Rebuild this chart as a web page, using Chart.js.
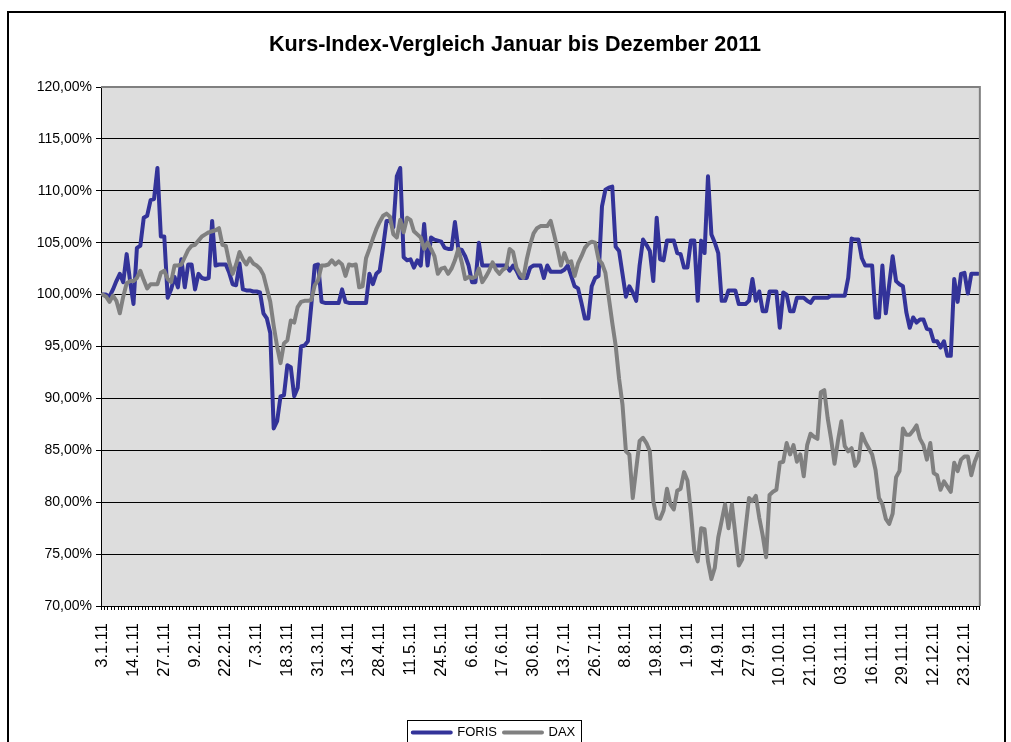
<!DOCTYPE html>
<html><head><meta charset="utf-8">
<script src="https://cdn.jsdelivr.net/npm/chart.js@4/dist/chart.umd.min.js"></script>
<style>
html,body{margin:0;padding:0;background:#fff;overflow:hidden;width:1011px;height:742px}
#wrap{position:relative;width:1011px;height:742px;overflow:hidden}
canvas{position:absolute;left:0;top:0}
#frame{position:absolute;left:7px;top:11px;width:999px;height:900px;border:2px solid #000;box-sizing:border-box;pointer-events:none}
#title{position:absolute;left:20px;width:990px;top:32px;text-align:center;font:bold 21.6px 'Liberation Sans',Arial,sans-serif;color:#000;line-height:1.117;white-space:nowrap}
</style></head>
<body><div id="wrap"><canvas id="c" width="1011" height="749" style="width:1011px;height:749px"></canvas><div id="title">Kurs-Index-Vergleich Januar bis Dezember 2011</div><div id="frame"></div></div>
<script>
const tickLabels = ["3.1.11","14.1.11","27.1.11","9.2.11","22.2.11","7.3.11","18.3.11","31.3.11","13.4.11","28.4.11","11.5.11","24.5.11","6.6.11","17.6.11","30.6.11","13.7.11","26.7.11","8.8.11","19.8.11","1.9.11","14.9.11","27.9.11","10.10.11","21.10.11","03.11.11","16.11.11","29.11.11","12.12.11","23.12.11"];
const seriesNames = ["FORIS","DAX"];
const FORIS = [
100.0,100.0,99.8,100.5,101.3,102.0,101.2,103.9,101.3,99.1,
104.5,104.7,107.4,107.6,109.1,109.2,112.2,105.6,105.6,99.7,
100.5,101.7,100.7,103.4,100.7,102.9,102.9,100.5,102.0,101.6,
101.5,101.6,107.1,102.8,102.9,102.9,102.9,102.1,101.0,100.9,
103.0,100.5,100.4,100.4,100.3,100.3,100.2,98.2,97.7,96.3,
87.1,87.8,90.2,90.3,93.2,93.0,90.2,91.0,95.0,95.1,
95.5,99.0,102.8,102.9,99.3,99.2,99.2,99.2,99.2,99.2,
100.5,99.3,99.2,99.2,99.2,99.2,99.2,99.2,102.0,101.0,
102.0,102.3,104.6,107.1,107.1,106.5,111.4,112.2,103.6,103.3,
103.4,102.6,103.3,102.8,106.8,102.8,105.5,105.3,105.2,105.1,
104.5,104.4,104.4,107.0,104.4,104.3,103.7,102.8,101.2,101.2,
105.0,102.8,102.8,102.8,102.8,102.8,102.8,102.8,102.8,102.3,
102.8,102.3,101.6,101.6,101.6,102.6,102.8,102.8,102.8,101.6,
102.8,102.2,102.2,102.2,102.2,102.4,102.8,101.8,100.8,100.6,
99.2,97.7,97.7,100.8,101.6,101.8,108.5,110.1,110.3,110.4,
104.6,104.2,102.0,99.8,100.8,100.2,99.4,102.8,105.3,104.8,
104.2,101.3,107.4,103.4,103.3,105.2,105.2,105.2,104.0,103.9,
102.6,102.6,105.2,105.2,99.4,105.2,104.0,111.4,105.8,105.0,
104.0,99.4,99.4,100.4,100.4,100.4,99.1,99.1,99.1,99.4,
101.5,99.4,100.3,98.4,98.4,100.3,100.3,100.3,96.8,100.2,
100.0,98.4,98.4,99.7,99.7,99.7,99.4,99.2,99.7,99.7,
99.7,99.7,99.7,99.9,99.9,99.9,99.9,99.9,101.6,105.4,
105.3,105.3,103.5,102.8,102.8,102.8,97.8,97.8,102.8,98.2,
101.0,103.7,101.3,101.0,100.8,98.3,96.8,97.8,97.3,97.6,
97.6,96.7,96.6,95.5,95.5,94.9,95.5,94.1,94.1,101.5,
99.3,102.0,102.1,100.1,102.0,102.0,102.0];
const DAX = [
100.0,99.8,99.3,99.9,99.4,98.2,99.8,101.1,101.3,101.3,
101.6,102.3,101.4,100.6,101.0,101.0,101.0,102.1,102.3,101.5,
101.2,102.8,102.8,102.9,103.6,104.3,104.7,104.8,105.2,105.6,
105.8,106.0,106.1,106.2,106.4,104.8,104.7,103.1,102.0,102.9,
104.1,103.4,102.9,103.5,103.0,102.8,102.5,101.9,100.6,99.3,
97.0,95.0,93.4,95.3,95.6,97.5,97.3,98.8,99.3,99.4,
99.4,99.5,100.9,101.4,102.8,102.8,102.9,103.3,102.9,103.2,
102.9,101.8,102.9,102.8,102.9,100.7,100.8,103.5,104.4,105.4,
106.3,107.0,107.6,107.8,107.5,105.8,105.5,107.2,106.0,107.4,
107.2,106.1,105.8,105.5,104.4,105.0,104.4,103.7,102.0,102.5,
102.6,102.0,102.5,103.3,104.4,103.1,101.5,101.7,101.6,101.7,
102.5,101.2,101.7,102.3,103.1,102.4,102.0,102.4,102.6,104.4,
104.1,102.6,102.0,101.6,103.4,104.8,105.9,106.4,106.6,106.6,
106.6,107.1,105.8,104.4,102.8,104.0,103.1,103.2,101.8,103.0,
103.7,104.5,104.9,105.1,105.0,103.4,103.0,102.1,99.7,97.3,
95.1,91.9,89.4,84.9,84.6,80.4,83.2,85.9,86.2,85.7,
84.9,80.1,78.5,78.4,79.2,81.3,79.8,79.3,81.1,81.3,
82.9,82.1,79.0,75.3,74.3,77.5,77.4,74.3,72.6,73.7,
76.6,78.2,79.8,77.5,79.8,76.9,73.9,74.5,77.5,80.4,
80.1,80.6,78.5,76.8,74.7,80.7,81.0,81.2,83.8,83.9,
85.7,84.6,85.5,83.9,84.6,82.5,85.5,86.6,86.3,86.1,
90.6,90.8,88.1,86.1,83.7,85.9,87.8,85.4,84.9,85.2,
83.5,84.0,86.6,85.8,85.2,84.6,83.1,80.4,79.8,78.4,
77.9,78.9,82.4,83.0,87.1,86.5,86.5,86.9,87.4,86.1,
85.5,84.1,85.7,82.8,82.6,81.2,82.0,81.5,81.0,83.8,
83.0,84.1,84.4,84.4,82.6,83.9,84.7];

const TICK_EVERY = 9;
const categories = FORIS.map((_, i) => i % TICK_EVERY === 0 ? (tickLabels[i / TICK_EVERY] || '') : '');
const FONT = "'Liberation Sans', Arial, sans-serif";
Chart.defaults.font.family = FONT;

const plotDecor = {
  id: 'plotDecor',
  beforeDraw(chart) {
    const {ctx, chartArea: a} = chart;
    ctx.save();
    ctx.fillStyle = '#dddddd';
    ctx.fillRect(a.left, a.top, a.right - a.left, a.bottom - a.top);
    ctx.restore();
  },
  afterDraw(chart) {
    const {ctx, chartArea: a} = chart;
    ctx.save();
    ctx.strokeStyle = '#808080';
    ctx.lineWidth = 2;
    ctx.beginPath();
    ctx.moveTo(a.left, a.top);
    ctx.lineTo(a.right, a.top);
    ctx.lineTo(a.right, a.bottom);
    ctx.stroke();
    const lg = chart.legend;
    if (lg && lg.legendHitBoxes && lg.legendHitBoxes.length) {
      const hb = lg.legendHitBoxes;
      const l = Math.min(...hb.map(h => h.left)) - 6;
      const r = Math.max(...hb.map(h => h.left + h.width)) + 6;
      ctx.strokeStyle = '#000';
      ctx.lineWidth = 1;
      ctx.strokeRect(Math.round(l) + 0.5, Math.round(lg.top + 1) + 0.5, Math.round(r - l), 60);
    }
    ctx.restore();
  }
};

new Chart(document.getElementById('c'), {
  type: 'line',
  data: {
    labels: categories,
    datasets: [
      {label: seriesNames[0], data: FORIS, borderColor: '#333399', backgroundColor: '#333399', borderWidth: 4, pointRadius: 0, tension: 0, borderJoinStyle: 'round', borderCapStyle: 'round', order: 1},
      {label: seriesNames[1], data: DAX, borderColor: '#808080', backgroundColor: '#808080', borderWidth: 4, pointRadius: 0, tension: 0, borderJoinStyle: 'round', borderCapStyle: 'round', order: 0}
    ]
  },
  options: {
    responsive: false,
    animation: false,
    devicePixelRatio: 1,
    layout: {padding: {left: 7, right: 30, top: 87, bottom: 0}},
    plugins: {
      title: {display: false},
      tooltip: {enabled: false},
      legend: {
        display: true, position: 'bottom',
        labels: {
          boxWidth: 38, boxHeight: 0, padding: 7, color: '#000',
          font: {family: FONT, size: 13},
          sort: (a, b) => a.datasetIndex - b.datasetIndex
        }
      }
    },
    scales: {
      x: {
        type: 'category', offset: true,
        grid: {display: true, drawOnChartArea: false, drawTicks: true, tickLength: 4, color: '#000', offset: true},
        border: {display: true, color: '#000', width: 1},
        ticks: {autoSkip: false, maxRotation: 90, minRotation: 90, padding: 13, color: '#000', font: {family: FONT, size: 16.5}},
        afterFit(s) { s.height = 113; }
      },
      y: {
        min: 70, max: 120,
        ticks: {stepSize: 5, color: '#000', padding: 4, font: {family: FONT, size: 14},
          callback: v => v.toFixed(2).replace('.', ',') + '%'},
        grid: {color: '#000', lineWidth: 1, tickLength: 5, drawTicks: true},
        border: {display: true, color: '#000', width: 1},
        afterFit(s) { s.width = 94; }
      }
    }
  },
  plugins: [plotDecor]
});
</script>
</body></html>
